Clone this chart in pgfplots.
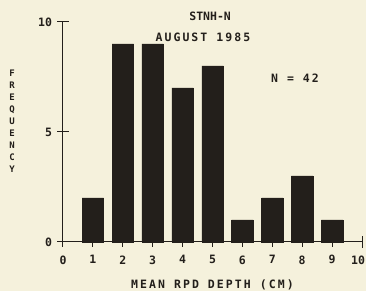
\documentclass[border=0pt]{standalone}
\usepackage{fontspec}
\setmainfont{DejaVu Sans Mono}[BoldFont={DejaVu Sans Mono Bold}]
\newfontfamily\pf{DejaVu Sans Mono Bold}[LetterSpace=18]
\newfontfamily\pft{DejaVu Sans Mono Bold}
\usepackage{pgfplots}
\pgfplotsset{compat=1.18}
\definecolor{bg}{RGB}{245,241,220}
\definecolor{ink}{RGB}{35,31,27}
\begin{document}
\begin{tikzpicture}
\fill[bg] (-63pt,-49pt) rectangle (303pt,242pt);
\useasboundingbox (-63pt,-49pt) rectangle (303pt,242pt);
\begin{axis}[
  anchor=origin, at={(0pt,0pt)},
  x=29.9pt, y=22pt,
  xmin=0, xmax=10, ymin=0, ymax=10,
  axis x line=bottom, axis y line=left,
  axis line style={-, ink, line width=1pt},
  clip=false,
  xtick={0,...,10}, ytick={0,5,10},
  xticklabels={0,1,2,3,4,5,6,7,8,9,{\kern-8pt 10}},
  xtick align=outside, ytick align=center,
  major tick length=11pt,
  x tick style={ink, line width=1pt, /pgfplots/major tick length=5pt},
  y tick style={ink, line width=1pt},
  extra x ticks={10}, extra x tick labels={},
  extra x tick style={xtick align=center, x tick style={/pgfplots/major tick length=12pt}},
  /pgf/number format/assume math mode=true,
  ticklabel style={font=\pft\fontsize{11.5}{12}\selectfont, text=ink},
  xticklabel style={yshift=1pt},
  yticklabel style={xshift=-2pt},
  xlabel={MEAN RPD DEPTH (CM)},
  xlabel style={font=\pf\fontsize{11.5}{12}\selectfont, text=ink, at={(axis cs:5,0)}, anchor=center, yshift=-43pt},
]
\addplot[ybar, bar width=21.5pt, fill=ink, draw=ink] coordinates {
 (1,2) (2,9) (3,9) (4,7) (5,8) (6,1) (7,2) (8,3) (9,1)
};
\node[font=\pft\fontsize{11.5}{12}\selectfont, text=ink] at (axis cs:4.92,10.27) {STNH-N};
\node[font=\pf\fontsize{11.5}{12}\selectfont, text=ink] at (axis cs:4.68,9.32) {AUGUST 1985};
\node[font=\pf\fontsize{11.5}{12}\selectfont, text=ink] at (axis cs:7.76,7.45) {N = 42};
\node[font=\pft\fontsize{9}{12}\selectfont, text=ink, align=center, xshift=-51pt] at (axis cs:0,5.5) {F\\R\\E\\Q\\U\\E\\N\\C\\Y};
\end{axis}
\end{tikzpicture}
\end{document}
